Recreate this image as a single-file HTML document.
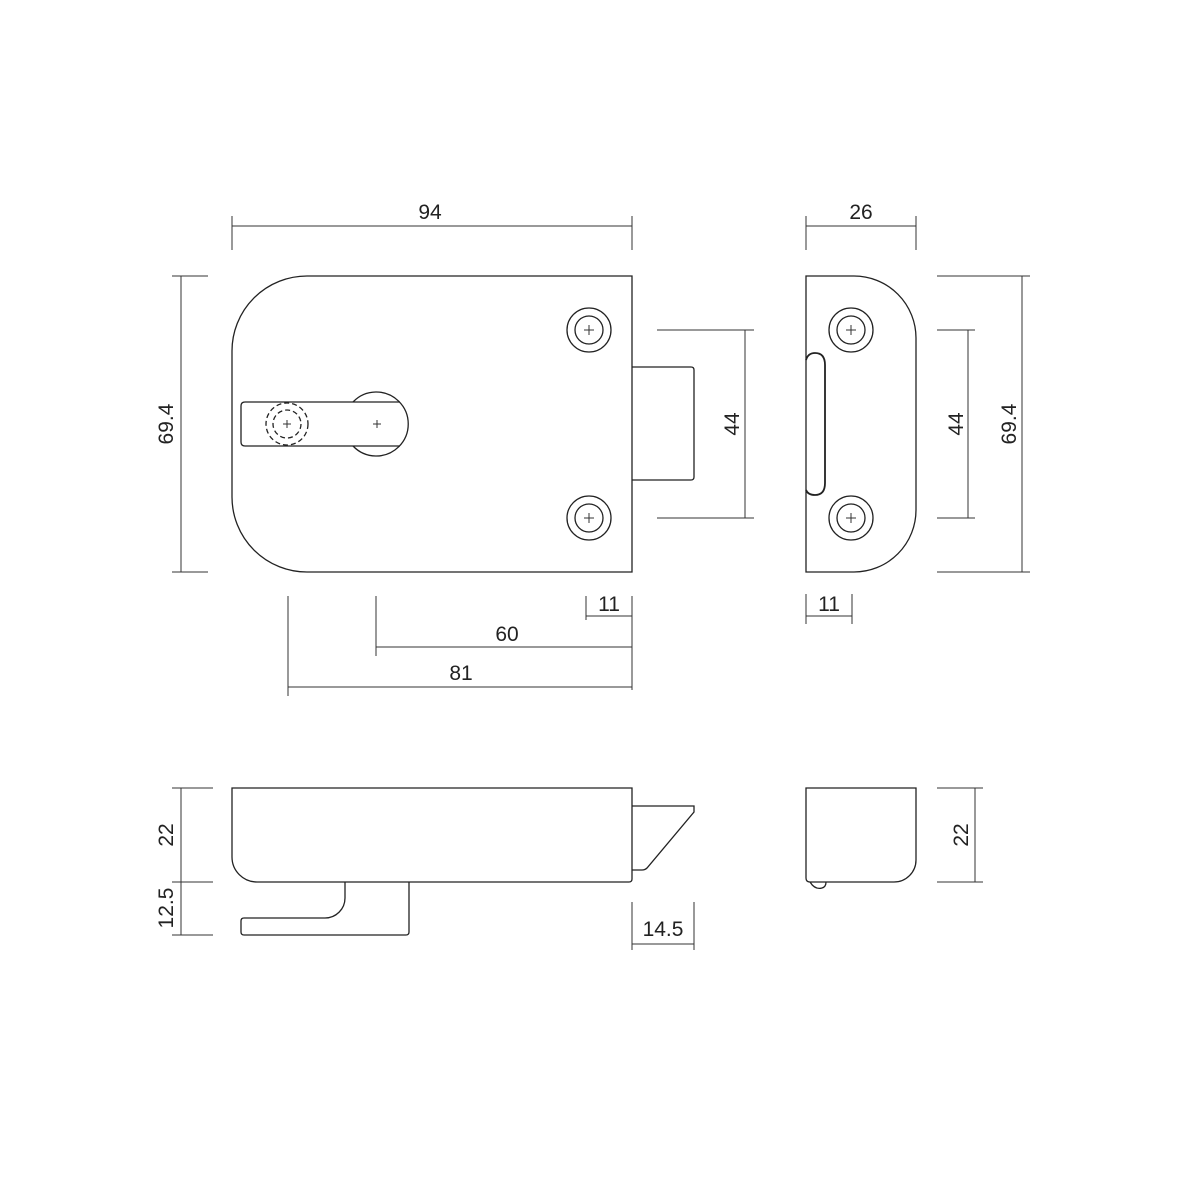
<!DOCTYPE html>
<html><head><style>html,body{margin:0;padding:0;background:#fff}svg{display:block}text{font-family:"Liberation Sans",sans-serif;font-size:21px;fill:#222}</style></head><body>
<svg width="1183" height="1182" viewBox="0 0 1183 1182" xmlns="http://www.w3.org/2000/svg">
<g fill="none" stroke="#222" stroke-width="1.3">
<!-- front plate -->
<path d="M307,276 L632,276 L632,572 L307,572 A75,75 0 0 1 232,497 L232,351 A75,75 0 0 1 307,276 Z"/>
<path d="M632,367 L691,367 Q694,367 694,370 L694,477 Q694,480 691,480 L632,480"/>
<circle cx="589" cy="330" r="22"/><circle cx="589" cy="330" r="14"/>
<circle cx="589" cy="518" r="22"/><circle cx="589" cy="518" r="14"/>
<path d="M353,402 A32,32 0 1 1 353,446"/>
<path d="M245,402 L400,402 M400,446 L245,446 Q241,446 241,442 L241,406 Q241,402 245,402"/>
<circle cx="287" cy="424" r="21" stroke-dasharray="5,3"/>
<circle cx="287" cy="424" r="14" stroke-dasharray="5,3"/>
<!-- side plate -->
<path d="M806,276 L854,276 A62,62 0 0 1 916,338 L916,510 A62,62 0 0 1 854,572 L806,572 Z"/>
<circle cx="851" cy="330" r="22"/><circle cx="851" cy="330" r="14"/>
<circle cx="851" cy="518" r="22"/><circle cx="851" cy="518" r="14"/>
<path d="M806,360 Q808,353 815,353 Q825,353 825,365 L825,483 Q825,495 815,495 Q808,495 806,490" stroke-width="1.8"/>
<!-- bottom view -->
<path d="M232,788 L632,788 L632,879 Q632,882 629,882 L257,882 A25,25 0 0 1 232,857 Z"/>
<path d="M632,806 L694,806 L694,812 L647,868 Q645,870 642,870 L632,870"/>
<path d="M345,882 L345,898 A20,20 0 0 1 325,918 L244,918 Q241,918 241,921 L241,932 Q241,935 244,935 L406,935 Q409,935 409,932 L409,882"/>
<path d="M806,788 L916,788 L916,860 A22,22 0 0 1 894,882 L810,882 Q806,882 806,878 Z"/>
<path d="M810,882 Q815,890 822,888 Q826,887 826,882"/>
</g>
<g fill="none" stroke="#333" stroke-width="1">
<!-- 94 -->
<path d="M232,226 L632,226 M232,216 L232,250 M632,216 L632,250"/>
<!-- left 69.4 -->
<path d="M181,276 L181,572 M172,276 L208,276 M172,572 L208,572"/>
<!-- 44 front -->
<path d="M657,330 L754,330 M657,518 L754,518 M745,330 L745,518"/>
<!-- 11, 60, 81 -->
<path d="M586,596 L586,620 M632,596 L632,690 M586,616 L632,616"/>
<path d="M376,596 L376,656 M376,647 L632,647"/>
<path d="M288,596 L288,696 M288,687 L632,687"/>
<!-- 26 -->
<path d="M806,226 L916,226 M806,216 L806,250 M916,216 L916,250"/>
<!-- 44 side -->
<path d="M937,330 L975,330 M937,518 L975,518 M968,330 L968,518"/>
<!-- 69.4 side -->
<path d="M937,276 L1030,276 M937,572 L1030,572 M1022,276 L1022,572"/>
<!-- 11 side -->
<path d="M806,594 L806,624 M852,594 L852,624 M806,616 L852,616"/>
<!-- bottom dims -->
<path d="M181,788 L181,935 M172,788 L213,788 M172,882 L213,882 M172,935 L213,935"/>
<path d="M632,902 L632,950 M694,902 L694,950 M632,944 L694,944"/>
<path d="M975,788 L975,882 M937,788 L983,788 M937,882 L983,882"/>
</g>
<g text-anchor="middle">
<text x="430" y="219">94</text>
<text x="861" y="219">26</text>
<text x="609" y="611">11</text>
<text x="829" y="611">11</text>
<text x="507" y="641">60</text>
<text x="461" y="680">81</text>
<text x="663" y="936">14.5</text>
<text transform="translate(173,424) rotate(-90)">69.4</text>
<text transform="translate(739,424) rotate(-90)">44</text>
<text transform="translate(963,424) rotate(-90)">44</text>
<text transform="translate(1016,424) rotate(-90)">69.4</text>
<text transform="translate(173,835) rotate(-90)">22</text>
<text transform="translate(173,908) rotate(-90)">12.5</text>
<text transform="translate(968,835) rotate(-90)">22</text>
</g>
<g stroke="#333" stroke-width="1">
<path d="M584,330 h10 M589,325 v10 M584,518 h10 M589,513 v10 M846,330 h10 M851,325 v10 M846,518 h10 M851,513 v10 M283,424 h8 M287,420 v8 M373,424 h8 M377,420 v8"/>
</g>
</svg>
</body></html>
